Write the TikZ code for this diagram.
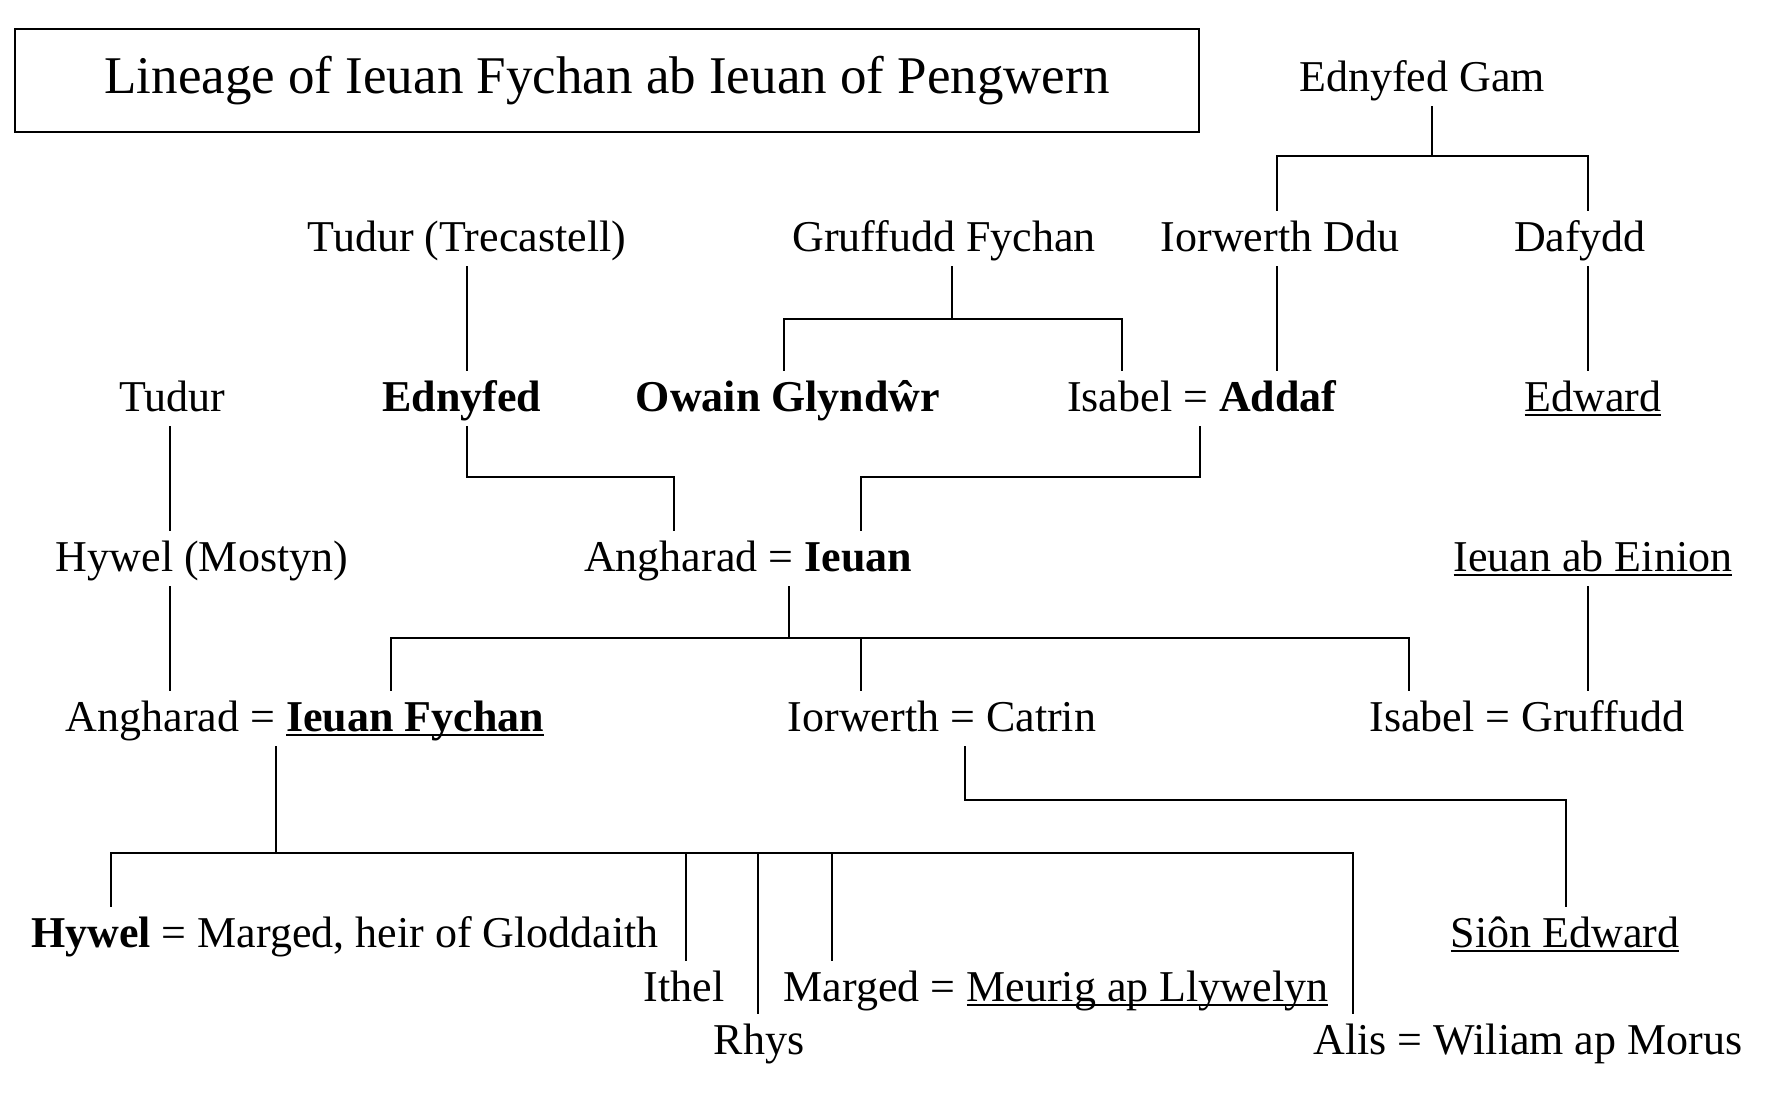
\documentclass[tikz,border=0pt]{standalone}
\usepackage{fontspec}
\setmainfont{Liberation Serif}
\newsavebox{\undlbox}
\newcommand{\undl}[1]{\sbox{\undlbox}{#1}\rlap{\rule[-0.11em]{\wd\undlbox}{0.045em}}\usebox{\undlbox}}
\tikzset{
  pers/.style={anchor=base, inner xsep=0pt, inner ysep=4.5pt, text height=15.5pt, text depth=3pt,
    font=\fontsize{22}{26}\selectfont},
  titlebox/.style={draw, minimum width=592pt, minimum height=51.5pt, inner sep=0pt,
    font=\fontsize{26.5}{32}\selectfont},
  every picture/.style={line cap=rect, line join=miter}
}

\begin{document}
\begin{tikzpicture}[x=0.5pt, y=-0.5pt, line width=0.8pt]
    \useasboundingbox (0,0) rectangle (1772,1119);

    \node[titlebox] (title) at (607,80.5) {Lineage of Ieuan Fychan ab Ieuan of Pengwern};

    % people
    \node[pers] (gam) at (1422,91) {Ednyfed Gam};

    \node[pers] (tudurTr) at (467,251) {Tudur (Trecastell)};
    \node[pers] (gruffF) at (944,251) {Gruffudd Fychan};
    \node[pers] (iorDdu) at (1280,251) {Iorwerth Ddu};
    \node[pers] (dafydd) at (1580,251) {Dafydd};

    \node[pers] (tudur) at (172,411) {Tudur};
    \node[pers] (ednyfed) at (462,411) {\textbf{Ednyfed}};
    \node[pers] (owain) at (788,411) {\textbf{Owain Glyndŵr}};
    \node[pers] (isaA) at (1202,411) {Isabel = \textbf{Addaf}};
    \node[pers] (edward) at (1593,411) {\undl{Edward}};

    \node[pers] (hywelM) at (202,571) {Hywel (Mostyn)};
    \node[pers] (anghI) at (748,571) {Angharad = \textbf{Ieuan}};
    \node[pers] (einion) at (1593,571) {\undl{Ieuan ab Einion}};

    \node[pers] (anghF) at (305,731) {Angharad = \undl{\textbf{Ieuan Fychan}}};
    \node[pers] (iorC) at (942,731) {Iorwerth = Catrin};
    \node[pers] (isaG) at (1527,731) {Isabel = Gruffudd};

    \node[pers] (hywel) at (345,947) {\textbf{Hywel} = Marged, heir of Gloddaith};
    \node[pers] (sion) at (1565,947) {\undl{Siôn Edward}};
    \node[pers] (ithel) at (684,1001) {Ithel};
    \node[pers] (marged) at (1056,1001) {Marged = \undl{Meurig ap Llywelyn}};
    \node[pers] (rhys) at (759,1054) {Rhys};
    \node[pers] (alis) at (1528,1054) {Alis = Wiliam ap Morus};

    % columns and bars of the lines
    \coordinate (cGam) at (1432,0);
    \coordinate (cIorDdu) at (1277,0);
    \coordinate (cDafydd) at (1588,0);
    \coordinate (cTudurTr) at (467,0);
    \coordinate (cGruff) at (952,0);
    \coordinate (cOwain) at (784,0);
    \coordinate (cIsabelA) at (1122,0);
    \coordinate (cAddaf) at (1200,0);
    \coordinate (cAngh) at (674,0);
    \coordinate (cIeuan) at (861,0);
    \coordinate (cIeuanB) at (789,0);
    \coordinate (cTudur) at (170,0);
    \coordinate (cIF) at (391,0);
    \coordinate (cIFB) at (276,0);
    \coordinate (cIsabelG) at (1409,0);
    \coordinate (cIorC) at (965,0);
    \coordinate (cSion) at (1566,0);
    \coordinate (cHywel) at (111,0);
    \coordinate (cIthel) at (686,0);
    \coordinate (cRhys) at (758,0);
    \coordinate (cMarged) at (832,0);
    \coordinate (cAlis) at (1353,0);

    \coordinate (yGam) at (0,156);
    \coordinate (yGruff) at (0,319);
    \coordinate (yPar) at (0,477);
    \coordinate (yKids) at (0,638);
    \coordinate (yIorC) at (0,800);
    \coordinate (yGen) at (0,853);

    % Ednyfed Gam
    \draw (gam.south -| cGam) -- (cGam |- yGam);
    \draw (iorDdu.north -| cIorDdu) |- (yGam -| cDafydd) -- (dafydd.north -| cDafydd);
    \draw (iorDdu.south -| cIorDdu) -- (isaA.north -| cIorDdu);
    \draw (dafydd.south -| cDafydd) -- (edward.north -| cDafydd);

    % Gruffudd Fychan
    \draw (gruffF.south -| cGruff) -- (cGruff |- yGruff);
    \draw (owain.north -| cOwain) |- (yGruff -| cIsabelA) -- (isaA.north -| cIsabelA);

    % Tudur lines
    \draw (tudurTr.south -| cTudurTr) -- (ednyfed.north -| cTudurTr);
    \draw (tudur.south -| cTudur) -- (hywelM.north -| cTudur);
    \draw (hywelM.south -| cTudur) -- (anghF.north -| cTudur);

    % Angharad = Ieuan
    \draw (ednyfed.south -| cTudurTr) |- (yPar -| cAngh) -- (anghI.north -| cAngh);
    \draw (isaA.south -| cAddaf) |- (yPar -| cIeuan) -- (anghI.north -| cIeuan);
    \draw (anghI.south -| cIeuanB) -- (cIeuanB |- yKids);
    \draw (anghF.north -| cIF) |- (yKids -| cIsabelG) -- (isaG.north -| cIsabelG);
    \draw (iorC.north -| cIeuan) -- (cIeuan |- yKids);
    \draw (einion.south -| cDafydd) -- (isaG.north -| cDafydd);

    % Iorwerth = Catrin
    \draw (iorC.south -| cIorC) |- (yIorC -| cSion) -- (sion.north -| cSion);

    % Angharad = Ieuan Fychan
    \draw (anghF.south -| cIFB) -- (cIFB |- yGen);
    \draw (hywel.north -| cHywel) |- (yGen -| cAlis) -- (alis.north -| cAlis);
    \foreach \c/\n in {cIthel/ithel, cRhys/rhys, cMarged/marged}
      \draw (\c |- yGen) -- (\n.north -| \c);
\end{tikzpicture}
\end{document}
